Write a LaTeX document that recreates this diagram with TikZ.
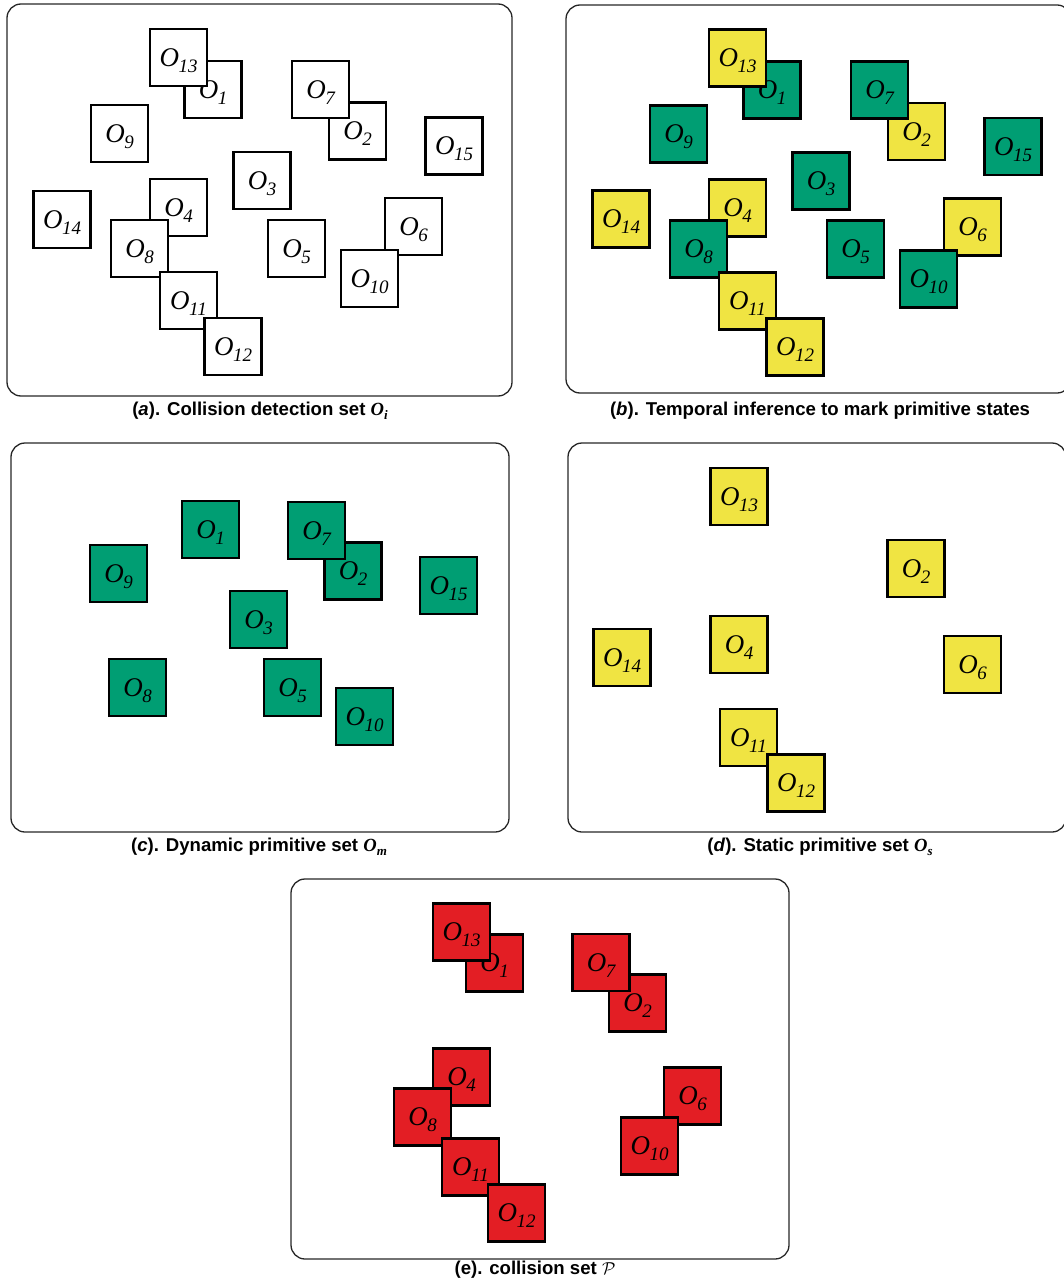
\documentclass[tikz,border=0pt]{standalone}
\usepackage{amsmath}
\usepackage{fontspec}
\setmainfont{Liberation Serif}
\setsansfont{Liberation Sans}
\usepackage{xcolor}
\usepackage{tikz}
\usetikzlibrary{positioning}

\definecolor{dyngreen}{RGB}{0,158,115}
\definecolor{statyellow}{RGB}{240,228,66}
\definecolor{colred}{RGB}{227,30,36}

% label of a primitive: italic O with a lowered index
\newcommand{\olab}[1]{O\kern-0.5pt\raisebox{-6pt}[0pt][0pt]{\fontsize{19}{19}\selectfont #1}}
% bold italic set symbol in the captions
\newcommand{\setsym}[1]{{\rmfamily\bfseries\itshape O\raisebox{-4pt}{\fontsize{13}{13}\selectfont #1}}}

\begin{document}
\begin{tikzpicture}[
    x=1pt, y=-1pt,
    panelframe/.style={draw=black!85, line width=1.3pt, rounded corners=14pt, inner sep=0pt},
    obj/.style={draw=black, line width=2.4pt, minimum size=57pt, inner sep=0pt, font=\fontsize{27}{27}\selectfont\itshape},
    wobj/.style={obj, fill=white},
    gobj/.style={obj, fill=dyngreen},
    yobj/.style={obj, fill=statyellow},
    robj/.style={obj, fill=colred},
    captext/.style={font=\sffamily\bfseries\fontsize{18.6}{20}\selectfont, inner sep=0pt}
]
\useasboundingbox (0,0) rectangle (1064,1284);

% ===== PANEL (a) =====
\node[panelframe, minimum width=505pt, minimum height=392pt] (frameA) at (259.5,200) {};
\node[wobj] (a9)  at (119.5,133.5) {\olab{9}};
\node[wobj] (a15) at (454,146) {\olab{15}};
\node[wobj] (a3)  at (262,180.5) {\olab{3}};
\node[wobj] (a14) at (62,219.5) {\olab{14}};
\node[wobj] (a5)  at (296.5,248.5) {\olab{5}};
\node[wobj] (a1)  at (213,89.5) {\olab{1}};
\node[wobj] (a13) at (178.5,57.5) {\olab{13}};
\node[wobj] (a2)  at (357.5,131) {\olab{2}};
\node[wobj] (a7)  at (320.5,89.5) {\olab{7}};
\node[wobj] (a4)  at (178.5,207.5) {\olab{4}};
\node[wobj] (a8)  at (139.5,248.5) {\olab{8}};
\node[wobj] (a11) at (188.5,300.5) {\olab{11}};
\node[wobj] (a12) at (233,346.5) {\olab{12}};
\node[wobj] (a6)  at (413.5,226.5) {\olab{6}};
\node[wobj] (a10) at (369.5,278.5) {\olab{10}};
\node[captext] (capA) at (260,411) {(\textit{a}). Collision detection set \setsym{i}};

% ===== PANEL (b) =====
\node[panelframe, minimum width=505pt, minimum height=388pt] (frameB) at (818.5,199) {};
\node[gobj] (b9)  at (678.5,134) {\olab{9}};
\node[gobj] (b15) at (1013,146.5) {\olab{15}};
\node[gobj] (b3)  at (821,181) {\olab{3}};
\node[yobj] (b14) at (621,219) {\olab{14}};
\node[gobj] (b5)  at (855.5,249) {\olab{5}};
\node[gobj] (b1)  at (772,90) {\olab{1}};
\node[yobj] (b13) at (737.5,58) {\olab{13}};
\node[yobj] (b2)  at (916.5,131.5) {\olab{2}};
\node[gobj] (b7)  at (879.5,90) {\olab{7}};
\node[yobj] (b4)  at (737.5,208) {\olab{4}};
\node[gobj] (b8)  at (698.5,249) {\olab{8}};
\node[yobj] (b11) at (747.5,301) {\olab{11}};
\node[yobj] (b12) at (795,347) {\olab{12}};
\node[yobj] (b6)  at (972.5,227) {\olab{6}};
\node[gobj] (b10) at (928.5,279) {\olab{10}};
\node[captext] (capB) at (820,411) {(\textit{b}). Temporal inference to mark primitive states};

% ===== PANEL (c) =====
\node[panelframe, minimum width=498pt, minimum height=389pt] (frameC) at (260,637.5) {};
\node[gobj] (c1)  at (210.5,529.5) {\olab{1}};
\node[gobj] (c2)  at (353,571) {\olab{2}};
\node[gobj] (c7)  at (316.5,530.5) {\olab{7}};
\node[gobj] (c9)  at (118.5,573.5) {\olab{9}};
\node[gobj] (c15) at (448.5,585.5) {\olab{15}};
\node[gobj] (c3)  at (258.5,619.5) {\olab{3}};
\node[gobj] (c8)  at (137.5,687.5) {\olab{8}};
\node[gobj] (c5)  at (292.5,687.5) {\olab{5}};
\node[gobj] (c10) at (364.5,716.5) {\olab{10}};
\node[captext] (capC) at (259,847) {(\textit{c}). Dynamic primitive set \setsym{m}};

% ===== PANEL (d) =====
\node[panelframe, minimum width=498pt, minimum height=389pt] (frameD) at (817,637.5) {};
\node[yobj] (d13) at (739,496.5) {\olab{13}};
\node[yobj] (d2)  at (916,568.5) {\olab{2}};
\node[yobj] (d14) at (622,657.5) {\olab{14}};
\node[yobj] (d4)  at (739,644.5) {\olab{4}};
\node[yobj] (d6)  at (972.5,664.5) {\olab{6}};
\node[yobj] (d11) at (748.5,737.5) {\olab{11}};
\node[yobj] (d12) at (796,783) {\olab{12}};
\node[captext] (capD) at (820,847) {(\textit{d}). Static primitive set \setsym{s}};

% ===== PANEL (e) =====
\node[panelframe, minimum width=498pt, minimum height=380pt] (frameE) at (540,1069) {};
\node[robj] (e1)  at (494.5,963) {\olab{1}};
\node[robj] (e13) at (461.5,932) {\olab{13}};
\node[robj] (e2)  at (637.5,1003) {\olab{2}};
\node[robj] (e7)  at (601,962.5) {\olab{7}};
\node[robj] (e4)  at (461.5,1077) {\olab{4}};
\node[robj] (e8)  at (422.5,1117) {\olab{8}};
\node[robj] (e11) at (470.5,1167) {\olab{11}};
\node[robj] (e12) at (516.5,1213) {\olab{12}};
\node[robj] (e6)  at (692.5,1096) {\olab{6}};
\node[robj] (e10) at (649.5,1146) {\olab{10}};
\node[captext] (capE) at (535,1270) {(e). collision set $\mathcal{P}$};

\end{tikzpicture}
\end{document}
